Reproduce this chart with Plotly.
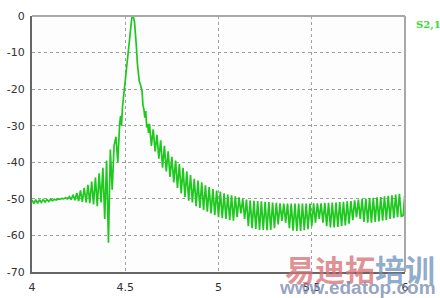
import numpy as np
import plotly.graph_objects as go

# ---- data ----
# low-frequency ripple region, 4.00-4.45 GHz, 0.01 GHz steps
freq_a = [4.00, 4.01, 4.02, 4.03, 4.04, 4.05, 4.06, 4.07, 4.08, 4.09,
          4.10, 4.11, 4.12, 4.13, 4.14, 4.15, 4.16, 4.17, 4.18, 4.19,
          4.20, 4.21, 4.22, 4.23, 4.24, 4.25, 4.26, 4.27, 4.28, 4.29,
          4.30, 4.31, 4.32, 4.33, 4.34, 4.35, 4.36, 4.37, 4.38, 4.39,
          4.40, 4.41, 4.42, 4.43, 4.44, 4.45]
s21_a = [-50.3, -51.3, -50.2, -51.2, -50.2, -51.0, -50.2, -50.9, -50.2, -50.7,
         -50.1, -50.5, -50.1, -50.3, -50.0, -50.1, -49.9, -50.0, -49.7, -50.0,
         -49.4, -50.2, -48.9, -50.4, -48.4, -50.6, -47.7, -50.8, -47.0, -51.0,
         -46.2, -51.2, -45.3, -51.5, -44.2, -52.0, -43.0, -51.0, -41.5, -55.5,
         -39.5, -62.0, -36.5, -47.5, -35.5, -33.0]

# main pass-band peak, 4.46-4.63 GHz
freq_b = [4.460, 4.465, 4.470, 4.475, 4.480, 4.485, 4.490, 4.495, 4.500, 4.505,
          4.510, 4.515, 4.520, 4.525, 4.530, 4.535, 4.540, 4.545, 4.550, 4.555,
          4.560, 4.565, 4.570, 4.575, 4.580, 4.585, 4.590, 4.595, 4.600, 4.605,
          4.610, 4.615, 4.620, 4.625, 4.630]
s21_b = [-40.0, -33.0, -29.5, -27.3, -30.0, -25.0, -22.5, -21.0, -18.5, -14.5,
         -12.0, -9.8, -7.3, -4.8, -2.3, -0.6, 0.0, -0.6, -1.8, -4.5,
         -8.5, -13.0, -16.5, -17.8, -18.5, -19.3, -20.5, -24.5, -25.5, -27.8,
         -26.0, -30.5, -29.5, -32.0, -29.5]

# upper stop-band ripple, 4.64-6.00 GHz, 0.01 GHz steps
freq_c = [round(4.64 + 0.01 * i, 2) for i in range(137)]
s21_c = [-35.5, -31.0, -37.0, -32.5, -39.0, -34.0, -41.5, -35.5, -42.5, -37.0,
         -44.0, -38.5, -45.5, -39.5, -47.0, -40.5, -48.5, -41.5, -49.5, -42.5,
         -50.5, -43.5, -51.0, -44.5, -52.0, -45.0, -52.5, -45.5, -53.0, -46.3,
         -53.5, -46.8, -54.0, -47.3, -54.5, -47.7, -55.0, -48.0, -55.3, -48.5,
         -55.5, -48.8, -55.8, -49.0, -56.0, -49.3, -55.0, -49.6, -54.0, -50.0,
         -55.5, -50.2, -57.5, -50.4, -58.0, -50.5, -58.2, -50.6, -58.5, -50.7,
         -58.5, -50.8, -58.6, -50.9, -58.5, -51.0, -58.0, -51.1, -57.0, -51.2,
         -56.0, -51.3, -56.5, -51.3, -58.0, -51.3, -58.7, -51.3, -58.8, -51.3,
         -58.8, -51.3, -58.6, -51.3, -58.3, -51.3, -57.5, -51.2, -56.5, -51.2,
         -55.5, -51.2, -56.5, -51.1, -57.5, -51.1, -57.8, -51.0, -57.8, -51.0,
         -57.7, -50.9, -57.5, -50.8, -57.3, -50.7, -56.8, -50.6, -55.8, -50.4,
         -55.0, -50.2, -55.5, -50.0, -56.3, -49.9, -56.5, -49.8, -56.5, -49.7,
         -56.3, -49.6, -56.2, -49.5, -56.0, -49.3, -55.8, -49.2, -55.5, -49.0,
         -55.3, -48.8, -55.0, -48.6, -54.8, -54.6, -48.2]

freq = freq_a + freq_b + freq_c
s21 = s21_a + s21_b + s21_c

x_ticks = [4, 4.5, 5, 5.5, 6]
x_tick_text = ["4", "4.5", "5", "5.5", "6"]
y_ticks = [0, -10, -20, -30, -40, -50, -60, -70]
y_tick_text = ["0", "-10", "-20", "-30", "-40", "-50", "-60", "-70"]
trace_name = "S2,1"

fig = go.Figure()
fig.add_trace(go.Scatter(x=freq, y=s21, mode="lines", name=trace_name,
                         line=dict(color="#1ec81e", width=1.7),
                         showlegend=False))

tick_font = dict(family="DejaVu Sans, Verdana, sans-serif", size=11, color="#333333")

fig.update_layout(
    width=440, height=298,
    margin=dict(l=32, r=35, t=16, b=26),
    paper_bgcolor="white", plot_bgcolor="#fdfdfd",
    xaxis=dict(range=[4, 6], tickvals=x_ticks, ticktext=x_tick_text,
               showgrid=True, gridcolor="#a0a0a0", griddash="dot", gridwidth=1,
               showline=True, linecolor="#666666", linewidth=2,
               zeroline=False, ticks="", tickfont=tick_font, ticklabelstandoff=4,
               automargin=False),
    yaxis=dict(range=[-70, 0], tickvals=y_ticks, ticktext=y_tick_text,
               showgrid=True, gridcolor="#a0a0a0", griddash="dot", gridwidth=1,
               showline=True, linecolor="#666666", linewidth=2,
               zeroline=False, ticks="", tickfont=tick_font, ticklabelstandoff=3,
               automargin=False),
    shapes=[
        dict(type="line", xref="paper", yref="paper", x0=0, x1=1, y0=1, y1=1,
             line=dict(color="#a8a8a8", width=2)),
        dict(type="line", xref="paper", yref="paper", x0=1, x1=1, y0=0, y1=1,
             line=dict(color="#a8a8a8", width=2)),
    ],
    annotations=[
        dict(text="<b>" + trace_name + "</b>", xref="paper", yref="paper",
             x=1.024, y=0.995, xanchor="left", yanchor="top", showarrow=False,
             font=dict(family="DejaVu Serif, serif", size=10, color="#33dd33")),
        dict(text="<b><span style='color:rgba(215,110,115,0.75)'>易迪拓</span>"
                  "<span style='color:rgba(110,145,190,0.75)'>培训</span></b>",
             xref="paper", yref="paper", x=1.085, y=0.015, xanchor="right",
             yanchor="middle", showarrow=False,
             font=dict(family="Noto Sans CJK SC", size=30)),
        dict(text="<b>www.edatop.com</b>", xref="paper", yref="paper",
             x=1.088, y=-0.06, xanchor="right", yanchor="middle", showarrow=False,
             font=dict(family="Liberation Sans, Arial", size=19,
                       color="rgba(120,140,180,0.8)")),
    ],
)

fig.write_html("out.html")
